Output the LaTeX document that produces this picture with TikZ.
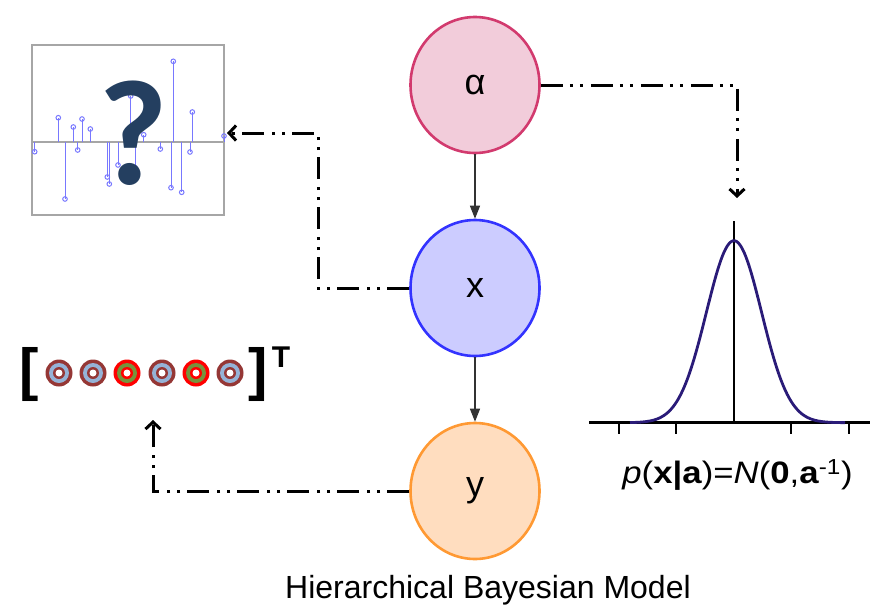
\documentclass[tikz,border=0pt]{standalone}
\usepackage{fontspec}
\usepackage{graphicx}
\setmainfont{Liberation Sans}
\newfontfamily\qfont{Carlito}
\usetikzlibrary{positioning,shapes.geometric,arrows.meta,calc}
\definecolor{alphafill}{HTML}{F2CCDA}
\definecolor{alphaedge}{HTML}{D23A6E}
\definecolor{xfill}{HTML}{CCCCFF}
\definecolor{xedge}{HTML}{3333FF}
\definecolor{yfill}{HTML}{FFDDBF}
\definecolor{yedge}{HTML}{FF9933}
\definecolor{qmark}{HTML}{243F60}
\definecolor{stemblue}{HTML}{7878FF}
\definecolor{boxgray}{HTML}{A6A6A6}
\definecolor{curvenavy}{HTML}{2A1B78}
\definecolor{ringbrown}{HTML}{953735}
\definecolor{ringblue}{HTML}{95B3D7}
\definecolor{ringred}{HTML}{FF0000}
\definecolor{ringolive}{HTML}{77933C}

\begin{document}
\begin{tikzpicture}[x=1pt, y=-1pt,
    varnode/.style={ellipse, line width=2.6pt, inner sep=0pt,
      minimum width=129pt, minimum height=136pt,
      font=\fontsize{36}{40}\selectfont},
    edge/.style={draw=black!80, line width=1.3pt,
      -{Triangle[length=13pt,width=10pt]}},
    flow/.style={line width=3pt,
      dash pattern=on 22pt off 7pt on 3pt off 7pt on 3pt off 8pt,
      -{Straight Barb[length=7pt,width=15pt,line width=3pt]}},
    stem/.style={draw=stemblue, line width=1pt},
    axis/.style={line width=2.8pt, black}]
  \useasboundingbox (0,0) rectangle (876,611);

  % graphical model
  \node[varnode, draw=alphaedge, fill=alphafill] (alpha) at (475,85) {α};
  \node[varnode, draw=xedge, fill=xfill] (x) at (475,288) {x};
  \node[varnode, draw=yedge, fill=yfill] (y) at (475,491) {y};
  \draw[edge] (alpha) -- (x);
  \draw[edge] (x) -- (y);

  % sparse weights, unknown
  \node[draw=boxgray, line width=1.8pt, minimum width=192pt,
        minimum height=170pt, inner sep=0pt] (box) at (128.3,130) {};
  \draw[draw=boxgray, line width=1.5pt] (box.west |- 0,142) -- (box.east |- 0,142);
  \foreach \sx/\sy in {34.7/151.7, 58.3/117.7, 65/199, 73.3/127, 77.7/150,
      82/119, 90.3/129, 107.3/177, 109.3/184, 118/165, 130.7/96,
      135/167.7, 143.7/134.7, 160.3/149, 171/187.7, 173.3/61.3,
      181.7/192.3, 190/152, 192.3/112, 224/136}{
    \draw[stem] (\sx,142) -- (\sx,\sy);
    \draw[stem] (\sx,\sy) circle (2.3);
  }
  \node[text=qmark, font=\qfont\bfseries\fontsize{150}{150}\selectfont,
        inner sep=0pt] (qm) at (133,133) {?};

  % observed vector
  \node[font=\bfseries\fontsize{58}{60}\selectfont, inner sep=0pt] (lbr) at (29,374.5) {[};
  \node[font=\bfseries\fontsize{58}{60}\selectfont, inner sep=0pt] (rbr) at (258,374.5) {]};
  \node[font=\bfseries\fontsize{30}{32}\selectfont, inner sep=0pt] (tsup) at (281,357) {T};
  \foreach \cx/\oc/\mc in {59/ringbrown/ringblue, 93/ringbrown/ringblue,
      127/ringred/ringolive, 162/ringbrown/ringblue,
      196/ringred/ringolive, 230/ringbrown/ringblue}{
    \fill[\oc] (\cx,373) circle (13.5);
    \fill[\mc] (\cx,373) circle (10);
    \fill[\oc] (\cx,373) circle (6);
    \fill[white] (\cx,373) circle (3.5);
  }

  % prior
  \draw[axis] (589,422.7) -- (870,422.7);
  \draw[axis] (734,221) -- (734,422.7);
  \foreach \tx in {619,676,791,849}
    \draw[axis] (\tx,422.7) -- (\tx,434);
  \draw[curvenavy, line width=2.8pt] plot[domain=630:845, samples=120, smooth]
    (\x, {422.7-182*exp(-((\x-734)^2)/1523)});
  \node[font=\fontsize{31}{34}\selectfont] (prior) at (737.5,475)
    {\scalebox{1.12}[1]{\textit{p}(\textbf{x|a})=\textit{N}(\textbf{0},\textbf{a}\textsuperscript{-1})}};

  % dashed links
  \coordinate (alphadrop) at (737,198);
  \coordinate (xturn) at (318,133);
  \coordinate (boxtip) at (227,133);
  \coordinate (vectip) at (153,420);
  \draw[flow] (alpha.east) -| (alphadrop);
  \draw[flow] (x.west) -| (xturn) -- (boxtip);
  \draw[flow] (y.west) -| (vectip);

  \node[font=\fontsize{32}{36}\selectfont] (title) at (488,590) {Hierarchical Bayesian Model};
\end{tikzpicture}
\end{document}
